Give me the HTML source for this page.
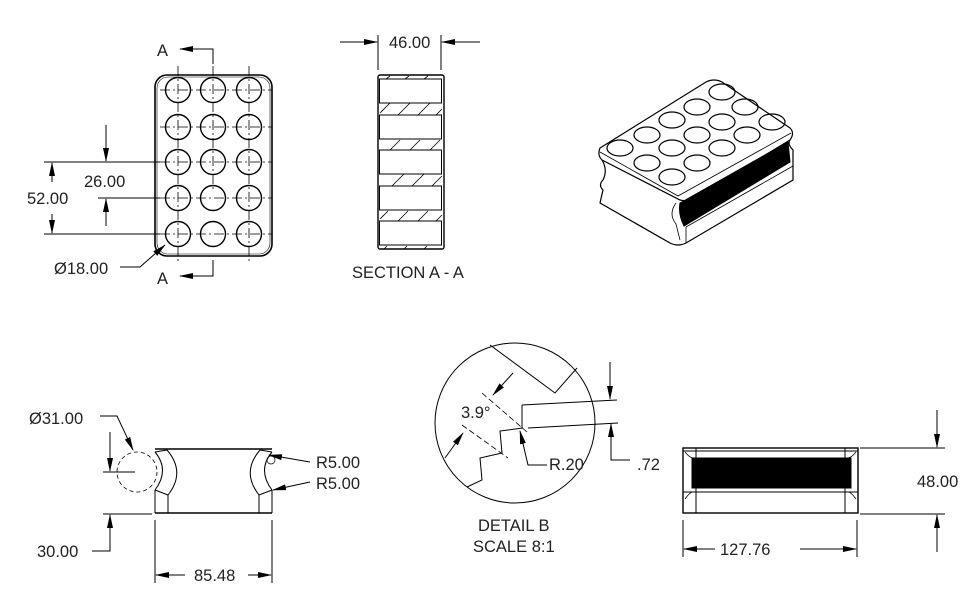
<!DOCTYPE html>
<html><head><meta charset="utf-8"><style>
html,body{margin:0;padding:0;background:#fff}
svg{display:block}
text{font-family:"Liberation Sans",sans-serif;font-size:16.5px;fill:#222}
</style></head><body>
<svg width="980" height="601" viewBox="0 0 980 601" xmlns="http://www.w3.org/2000/svg">
<defs>
<marker id="ar" markerWidth="14" markerHeight="6" refX="13" refY="3" orient="auto" markerUnits="userSpaceOnUse"><path d="M0,0 L14,3 L0,6 z" fill="#000"/></marker>
</defs>
<g stroke="#000" fill="none" stroke-width="1">
<rect x="155" y="75" width="117" height="181" rx="12" stroke-width="1.6"/>
<rect x="157" y="77" width="113" height="177" rx="11" stroke-width="0.6"/>
<g stroke-dasharray="10,3,2,3" stroke-width="0.8">
<line x1="178" y1="66" x2="178" y2="264"/><line x1="213" y1="66" x2="213" y2="190"/><line x1="249" y1="66" x2="249" y2="264"/>
<line x1="160" y1="90" x2="272" y2="90"/><line x1="160" y1="127" x2="272" y2="127"/><line x1="160" y1="162" x2="272" y2="162"/><line x1="160" y1="198" x2="272" y2="198"/><line x1="160" y1="234" x2="272" y2="234"/>
</g>
<g stroke-width="1.4">
<circle cx="178" cy="90" r="12.5"/><circle cx="213" cy="90" r="12.5"/><circle cx="249" cy="90" r="12.5"/>
<circle cx="178" cy="127" r="12.5"/><circle cx="213" cy="127" r="12.5"/><circle cx="249" cy="127" r="12.5"/>
<circle cx="178" cy="162" r="12.5"/><circle cx="213" cy="162" r="12.5"/><circle cx="249" cy="162" r="12.5"/>
<circle cx="178" cy="198" r="12.5"/><circle cx="213" cy="198" r="12.5"/><circle cx="249" cy="198" r="12.5"/>
<circle cx="178" cy="234" r="12.5"/><circle cx="213" cy="234" r="12.5"/><circle cx="249" cy="234" r="12.5"/>
</g>
<path d="M213,64 V49 H180" marker-end="url(#ar)"/>
<path d="M213,260 V276 H180" marker-end="url(#ar)"/>
<line x1="44" y1="162" x2="160" y2="162"/><line x1="44" y1="234" x2="160" y2="234"/>
<line x1="52" y1="182" x2="52" y2="163" marker-end="url(#ar)"/>
<line x1="52" y1="214" x2="52" y2="233" marker-end="url(#ar)"/>
<line x1="98" y1="198" x2="160" y2="198"/>
<line x1="106" y1="125" x2="106" y2="161" marker-end="url(#ar)"/>
<line x1="106" y1="226" x2="106" y2="199" marker-end="url(#ar)"/>
<path d="M120,267 H140 L165,245" marker-end="url(#ar)"/>
<rect x="378" y="75" width="66" height="174" rx="2" stroke-width="1.4"/>
<g stroke-width="1">
<rect x="379.5" y="79" width="62" height="24"/><rect x="379.5" y="115" width="62" height="24"/><rect x="379.5" y="150" width="62" height="24"/><rect x="379.5" y="186" width="62" height="24"/><rect x="379.5" y="221" width="62" height="24"/>
</g>
<g stroke-width="0.8">
<path d="M386,79 l4,-3 M405,79 l4,-3 M424,79 l4,-3"/>
<path d="M380,113 l10,-10 M398,115 l12,-12 M418,115 l12,-12 M436,115 l6,-6"/>
<path d="M390,150 l10,-10 M410,150 l10,-10 M430,150 l10,-10"/>
<path d="M392,186 l12,-12 M412,186 l12,-12 M432,186 l10,-10"/>
<path d="M380,219 l8,-8 M398,221 l10,-10 M418,221 l10,-10 M436,221 l6,-6"/>
<path d="M384,249 l3,-3 M404,249 l3,-3 M424,249 l3,-3"/>
</g>
<line x1="378" y1="35" x2="378" y2="70"/><line x1="441" y1="35" x2="441" y2="70"/>
<line x1="340" y1="42" x2="377" y2="42" marker-end="url(#ar)"/>
<line x1="480" y1="42" x2="442" y2="42" marker-end="url(#ar)"/>
<path d="M600,148 Q597,155 602,160 L680,200 Q688,202 694,198 L790,140 Q795,133 790,128 L722,82 Q714,78 706,82 Z" stroke-width="1.2"/>
<path d="M600,152 L678,196 L791,133" stroke-width="0.8"/>
<path d="M602,160 Q608,170 603,180 Q598,185 603,190 L600,203 L670,243 Q678,247 686,243 L793,180 L793,150 Q787,144 790,140" stroke-width="1.2"/>
<path d="M600,203 L670,243 M676,203 Q668,214 676,224 L680,240 M686,243 L686,227 L793,166" stroke-width="0.8"/>
<path d="M680,203 L788,142 L790,162 L684,226 Q678,214 680,203 Z" fill="#000"/>
<g stroke-width="1.2">
<ellipse cx="722" cy="92" rx="13" ry="8"/><ellipse cx="697" cy="107" rx="13" ry="8"/><ellipse cx="672" cy="120" rx="13" ry="8"/><ellipse cx="647" cy="135" rx="13" ry="8"/><ellipse cx="620" cy="148" rx="13" ry="8"/>
<ellipse cx="745" cy="107" rx="13" ry="8"/><ellipse cx="722" cy="122" rx="13" ry="8"/><ellipse cx="697" cy="135" rx="13" ry="8"/><ellipse cx="672" cy="148" rx="13" ry="8"/><ellipse cx="647" cy="163" rx="13" ry="8"/>
<ellipse cx="772" cy="122" rx="13" ry="8"/><ellipse cx="747" cy="135" rx="13" ry="8"/><ellipse cx="722" cy="148" rx="13" ry="8"/><ellipse cx="697" cy="163" rx="13" ry="8"/><ellipse cx="672" cy="177" rx="13" ry="8"/>
</g>
<line x1="155" y1="449" x2="272" y2="449" stroke-width="1.6"/>
<line x1="155" y1="513" x2="272" y2="513" stroke-width="1.6"/>
<path d="M155,452 Q170,470 155,490 M167,450 Q186,472 168,495 M155,452 L167,450 M155,490 L168,495 M155,490 V513 M168,495 V513"/>
<path d="M272,452 Q257,470 272,490 M260,450 Q241,472 259,495 M272,452 L260,450 M272,490 L259,495 M272,490 V513 M259,495 V513"/>
<circle cx="137" cy="472" r="20" stroke-dasharray="4,3" stroke-width="0.8"/>
<circle cx="271" cy="460" r="4" stroke-width="0.7"/>
<path d="M100,416 H117 L133,450" marker-end="url(#ar)"/>
<line x1="110" y1="432" x2="110" y2="471" marker-end="url(#ar)"/>
<line x1="103" y1="472" x2="135" y2="472"/>
<line x1="103" y1="514" x2="152" y2="514"/>
<path d="M92,551 H110 V515" marker-end="url(#ar)"/>
<line x1="155" y1="520" x2="155" y2="583"/><line x1="272" y1="520" x2="272" y2="583"/>
<line x1="185" y1="575" x2="156" y2="575" marker-end="url(#ar)"/>
<line x1="248" y1="575" x2="271" y2="575" marker-end="url(#ar)"/>
<line x1="310" y1="462" x2="269" y2="455" marker-end="url(#ar)"/>
<line x1="310" y1="482" x2="273" y2="490" marker-end="url(#ar)"/>
<circle cx="515" cy="423" r="80"/>
<path d="M490,345 L555,393 L577,368"/>
<path d="M522,405 L617,400 M522,405 V428 M528,428 L618,423"/>
<path d="M523,428 L500,431 L502,453 L480,458 L482,480 L467,487"/>
<g stroke-dasharray="6,3" stroke-width="0.8"><line x1="482" y1="393" x2="527" y2="432"/><line x1="462" y1="425" x2="508" y2="458"/></g>
<line x1="445" y1="458" x2="463" y2="433" marker-end="url(#ar)"/>
<line x1="513" y1="373" x2="493" y2="395" marker-end="url(#ar)"/>
<path d="M547,465 H528 L520,431" marker-end="url(#ar)"/>
<line x1="610" y1="362" x2="610" y2="399" marker-end="url(#ar)"/>
<path d="M630,460 H611 V424" marker-end="url(#ar)"/>
<rect x="683" y="448" width="175" height="65" stroke-width="1.4"/>
<line x1="696" y1="448" x2="696" y2="513"/><line x1="845" y1="448" x2="845" y2="513"/>
<path d="M683,451 H858 M683,492 H858"/>
<path d="M685,452 Q690,458 693,458 M856,452 Q851,458 848,458 M685,499 Q690,492 693,492 M856,499 Q851,492 848,492" stroke-width="0.8"/>
<rect x="692" y="458" width="159" height="30" fill="#000"/>
<line x1="860" y1="448" x2="945" y2="448"/><line x1="860" y1="514" x2="945" y2="514"/>
<line x1="937" y1="410" x2="937" y2="447" marker-end="url(#ar)"/>
<line x1="937" y1="552" x2="937" y2="515" marker-end="url(#ar)"/>
<line x1="683" y1="520" x2="683" y2="557"/><line x1="857" y1="520" x2="857" y2="557"/>
<line x1="715" y1="549" x2="684" y2="549" marker-end="url(#ar)"/>
<line x1="800" y1="549" x2="856" y2="549" marker-end="url(#ar)"/>
</g>
<text x="157" y="56">A</text>
<text x="157" y="284">A</text>
<text x="27" y="204">52.00</text>
<text x="84" y="187">26.00</text>
<text x="54" y="274">Ø18.00</text>
<text x="389" y="48">46.00</text>
<text x="352" y="278">SECTION A - A</text>
<text x="29" y="424">Ø31.00</text>
<text x="37" y="557">30.00</text>
<text x="194" y="581">85.48</text>
<text x="316" y="468">R5.00</text>
<text x="316" y="489">R5.00</text>
<text x="461" y="418">3.9°</text>
<text x="549" y="470">R.20</text>
<text x="637" y="470">.72</text>
<text x="478" y="531">DETAIL B</text>
<text x="473" y="552">SCALE 8:1</text>
<text x="917" y="487">48.00</text>
<text x="720" y="555">127.76</text>
</svg>
</body></html>
